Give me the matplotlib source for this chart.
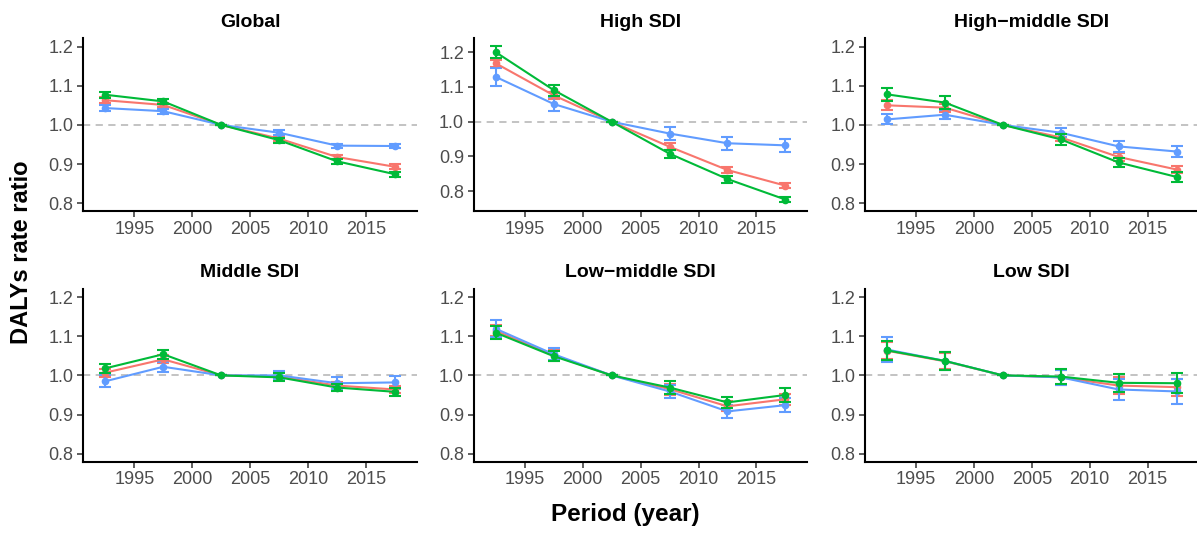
import matplotlib
matplotlib.use("Agg")
import matplotlib.pyplot as plt
import numpy as np

plt.rcParams["font.family"] = ["Liberation Sans", "DejaVu Sans"]

periods = [1992.5, 1997.5, 2002.5, 2007.5, 2012.5, 2017.5]
regions = ["Global", "High SDI", "High\u2212middle SDI", "Middle SDI", "Low\u2212middle SDI", "Low SDI"]
series_names = ["red", "green", "blue"]
colors = {"red": "#F8766D", "green": "#00BA38", "blue": "#619CFF"}

values = {
    "Global": {
        "red":   [1.063, 1.051, 1.0, 0.965, 0.918, 0.893],
        "green": [1.077, 1.060, 1.0, 0.961, 0.907, 0.874],
        "blue":  [1.043, 1.035, 1.0, 0.980, 0.947, 0.946],
    },
    "High SDI": {
        "red":   [1.168, 1.076, 1.0, 0.928, 0.861, 0.816],
        "green": [1.200, 1.091, 1.0, 0.908, 0.835, 0.776],
        "blue":  [1.129, 1.051, 1.0, 0.966, 0.938, 0.932],
    },
    "High\u2212middle SDI": {
        "red":   [1.050, 1.044, 1.0, 0.968, 0.918, 0.886],
        "green": [1.078, 1.057, 1.0, 0.963, 0.904, 0.867],
        "blue":  [1.014, 1.026, 1.0, 0.980, 0.945, 0.932],
    },
    "Middle SDI": {
        "red":   [1.007, 1.041, 1.0, 0.997, 0.974, 0.964],
        "green": [1.018, 1.054, 1.0, 0.995, 0.969, 0.958],
        "blue":  [0.985, 1.022, 1.0, 1.000, 0.980, 0.982],
    },
    "Low\u2212middle SDI": {
        "red":   [1.114, 1.051, 1.0, 0.965, 0.921, 0.939],
        "green": [1.109, 1.049, 1.0, 0.969, 0.931, 0.950],
        "blue":  [1.119, 1.054, 1.0, 0.959, 0.908, 0.924],
    },
    "Low SDI": {
        "red":   [1.063, 1.036, 1.0, 0.995, 0.974, 0.970],
        "green": [1.064, 1.037, 1.0, 0.997, 0.981, 0.980],
        "blue":  [1.066, 1.037, 1.0, 0.995, 0.964, 0.959],
    },
}

errors = {
    "Global": {
        "red":   [0.007, 0.006, 0.0, 0.006, 0.006, 0.006],
        "green": [0.008, 0.007, 0.0, 0.006, 0.006, 0.006],
        "blue":  [0.007, 0.006, 0.0, 0.006, 0.005, 0.005],
    },
    "High SDI": {
        "red":   [0.010, 0.010, 0.0, 0.010, 0.009, 0.007],
        "green": [0.017, 0.016, 0.0, 0.012, 0.010, 0.008],
        "blue":  [0.027, 0.019, 0.0, 0.019, 0.018, 0.018],
    },
    "High\u2212middle SDI": {
        "red":   [0.013, 0.010, 0.0, 0.010, 0.010, 0.008],
        "green": [0.017, 0.017, 0.0, 0.015, 0.012, 0.012],
        "blue":  [0.013, 0.012, 0.0, 0.012, 0.013, 0.013],
    },
    "Middle SDI": {
        "red":   [0.010, 0.010, 0.0, 0.009, 0.008, 0.009],
        "green": [0.012, 0.012, 0.0, 0.010, 0.008, 0.010],
        "blue":  [0.015, 0.013, 0.0, 0.010, 0.015, 0.017],
    },
    "Low\u2212middle SDI": {
        "red":   [0.014, 0.013, 0.0, 0.014, 0.013, 0.014],
        "green": [0.017, 0.013, 0.0, 0.016, 0.014, 0.017],
        "blue":  [0.022, 0.015, 0.0, 0.016, 0.017, 0.018],
    },
    "Low SDI": {
        "red":   [0.022, 0.020, 0.0, 0.020, 0.022, 0.022],
        "green": [0.025, 0.022, 0.0, 0.020, 0.023, 0.026],
        "blue":  [0.032, 0.022, 0.0, 0.020, 0.027, 0.032],
    },
}

xticks = [1995, 2000, 2005, 2010, 2015]
yticks = [0.8, 0.9, 1.0, 1.1, 1.2]
ylims = {"High SDI": (0.743, 1.241)}
default_ylim = (0.780, 1.222)

W, H = 1197, 533
fig = plt.figure(figsize=(W / 100, H / 100), dpi=100)

lefts = [83.3, 473.8, 865.0]
pw = 333.6
tops = [38.0, 288.5]
ph = 173.0

for i, reg in enumerate(regions):
    r, c = divmod(i, 3)
    x0 = lefts[c] / W
    y0 = 1 - (tops[r] + ph) / H
    ax = fig.add_axes([x0, y0, pw / W, ph / H])
    ax.axhline(1.0, color="#BEBEBE", lw=1.3, ls=(0, (4, 3)), zorder=1)
    for s in series_names:
        ax.errorbar(periods, values[reg][s], yerr=errors[reg][s], color=colors[s],
                    lw=1.5, capsize=4, capthick=1.5, elinewidth=1.5,
                    marker="o", markersize=4.5, zorder=3 if s != "green" else 4)
    ax.set_xlim(1990.6, 2019.4)
    ax.set_ylim(*ylims.get(reg, default_ylim))
    ax.set_xticks(xticks)
    ax.set_yticks(yticks)
    ax.set_yticklabels([f"{v:.1f}" for v in yticks])
    for sp in ["top", "right"]:
        ax.spines[sp].set_visible(False)
    for sp in ["left", "bottom"]:
        ax.spines[sp].set_linewidth(1.5)
        ax.spines[sp].set_color("black")
    ax.tick_params(axis="both", labelsize=13, labelcolor="#4D4D4D", color="#333333",
                   length=4, width=1.1, pad=3)
    ax.set_title(reg, fontsize=14, fontweight="bold", pad=8)

fig.text(22 / W, 1 - 252 / H, "DALYs rate ratio", rotation=90, ha="center", va="center",
         fontsize=17, fontweight="bold")
fig.text(625 / W, 1 - 514 / H, "Period (year)", ha="center", va="center",
         fontsize=17.5, fontweight="bold")

fig.savefig("out.png", dpi=100)
